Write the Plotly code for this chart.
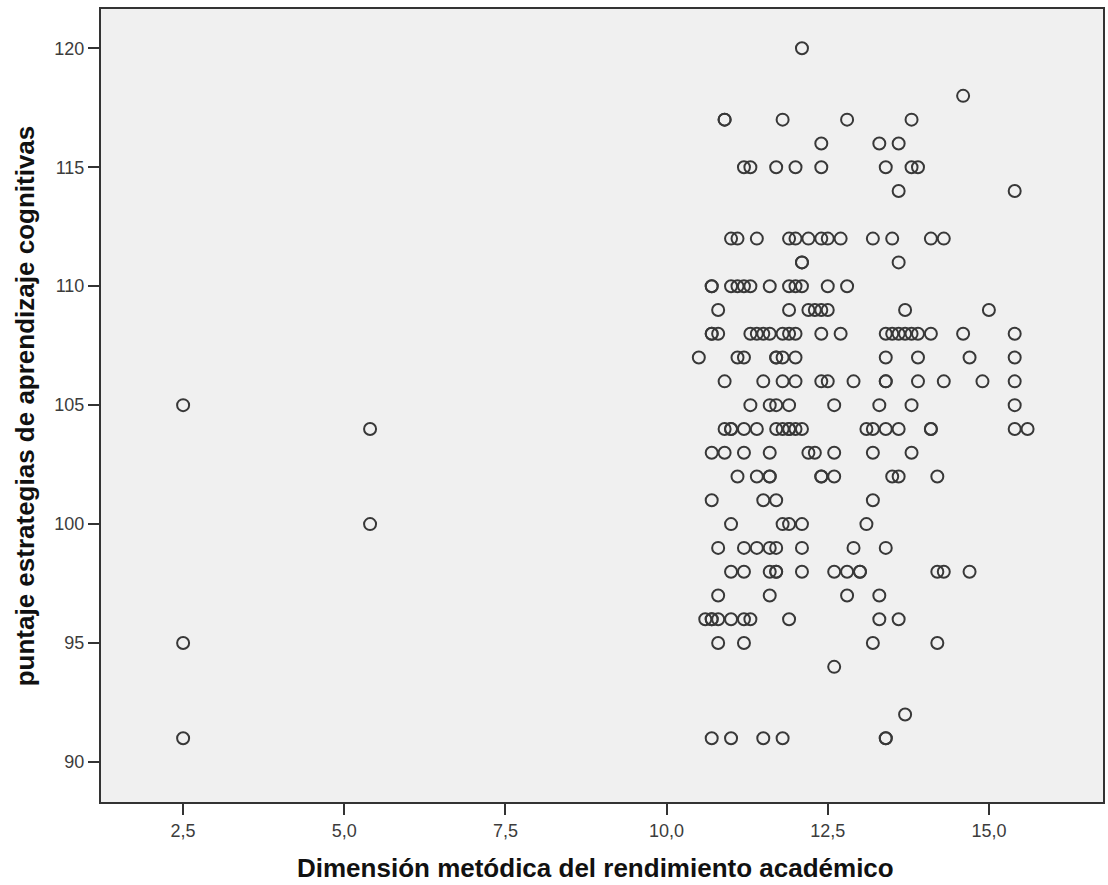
import plotly.graph_objects as go

# ---- data ----
rows = {
    120: [12.1],
    118: [14.6],
    117: [10.9, 10.9, 11.8, 12.8, 13.8],
    116: [12.4, 13.3, 13.6],
    115: [11.2, 11.3, 11.7, 12.0, 12.4, 13.4, 13.8, 13.9],
    114: [13.6, 15.4],
    112: [11.0, 11.1, 11.4, 11.9, 12.0, 12.2, 12.4, 12.5, 12.7, 13.2, 13.5, 14.1, 14.3],
    111: [12.1, 12.1, 13.6],
    110: [10.7, 10.7, 11.0, 11.1, 11.2, 11.3, 11.6, 11.9, 12.0, 12.1, 12.5, 12.8],
    109: [10.8, 11.9, 12.2, 12.3, 12.4, 12.5, 13.7, 15.0],
    108: [10.7, 10.7, 10.8, 11.3, 11.4, 11.5, 11.6, 11.8, 11.9, 12.0, 12.4, 12.7,
          13.4, 13.5, 13.6, 13.7, 13.8, 13.9, 14.1, 14.6, 15.4],
    107: [10.5, 11.1, 11.2, 11.7, 11.7, 11.8, 12.0, 13.4, 13.9, 14.7, 15.4],
    106: [10.9, 11.5, 11.8, 12.0, 12.4, 12.5, 12.9, 13.4, 13.4, 13.9, 14.3, 14.9, 15.4],
    105: [2.5, 11.3, 11.6, 11.7, 11.9, 12.6, 13.3, 13.8, 15.4],
    104: [5.4, 10.9, 11.0, 11.0, 11.2, 11.4, 11.7, 11.8, 11.9, 11.9, 12.0, 12.1,
          13.1, 13.2, 13.4, 13.6, 14.1, 14.1, 15.4, 15.6],
    103: [10.7, 10.9, 11.2, 11.6, 12.2, 12.3, 12.6, 13.2, 13.8],
    102: [11.1, 11.4, 11.6, 11.6, 12.4, 12.4, 12.6, 13.5, 13.6, 14.2],
    101: [10.7, 11.5, 11.7, 13.2],
    100: [5.4, 11.0, 11.8, 11.9, 12.1, 13.1],
    99: [10.8, 11.2, 11.4, 11.6, 11.7, 12.1, 12.9, 13.4],
    98: [11.0, 11.2, 11.6, 11.7, 11.7, 12.1, 12.6, 12.8, 13.0, 13.0, 14.2, 14.3, 14.7],
    97: [10.8, 11.6, 12.8, 13.3],
    96: [10.6, 10.7, 10.7, 10.8, 11.0, 11.2, 11.3, 11.9, 13.3, 13.6],
    95: [2.5, 10.8, 11.2, 13.2, 14.2],
    94: [12.6],
    92: [13.7],
    91: [2.5, 10.7, 11.0, 11.5, 11.8, 13.4, 13.4],
}

x_values = []
y_values = []
for yv, xs in rows.items():
    for xv in xs:
        x_values.append(xv)
        y_values.append(yv)

x_tickvals = [2.5, 5.0, 7.5, 10.0, 12.5, 15.0]
x_ticktext = ["2,5", "5,0", "7,5", "10,0", "12,5", "15,0"]
y_tickvals = [90, 95, 100, 105, 110, 115, 120]
y_ticktext = ["90", "95", "100", "105", "110", "115", "120"]

x_title = "Dimensión metódica del rendimiento académico"
y_title = "puntaje estrategias de aprendizaje cognitivas"

FONT = "Liberation Sans, Arial, sans-serif"

fig = go.Figure()
fig.add_trace(go.Scatter(
    x=x_values, y=y_values, mode="markers",
    marker=dict(symbol="circle-open", size=12, color="#383838",
                line=dict(width=2, color="#383838")),
    showlegend=False, hoverinfo="x+y",
))

axis_common = dict(
    showgrid=False, zeroline=False, showline=True, linecolor="#333333",
    linewidth=2, mirror=True, ticks="outside", ticklen=11, tickwidth=2,
    tickcolor="#333333",
    tickfont=dict(family=FONT, size=18, color="#3c3c3c"),
)

fig.update_layout(
    width=1108, height=885,
    margin=dict(l=101, r=3, t=9, b=83),
    paper_bgcolor="white",
    plot_bgcolor="#f0f0f0",
    xaxis=dict(range=[1.226, 16.77], tickvals=x_tickvals, ticktext=x_ticktext,
               **axis_common),
    yaxis=dict(range=[88.32, 121.65], tickvals=y_tickvals, ticktext=y_ticktext,
               **axis_common),
    annotations=[
        dict(text=x_title, xref="paper", yref="paper", x=0.494, y=-0.083,
             xanchor="center", yanchor="middle", showarrow=False,
             font=dict(family=FONT, size=26, color="#111111", weight="bold")),
        dict(text=y_title, xref="paper", yref="paper", x=-0.076, y=0.5,
             xanchor="center", yanchor="middle", textangle=-90, showarrow=False,
             font=dict(family=FONT, size=26, color="#111111", weight="bold")),
    ],
)

fig.write_html("out.html")
